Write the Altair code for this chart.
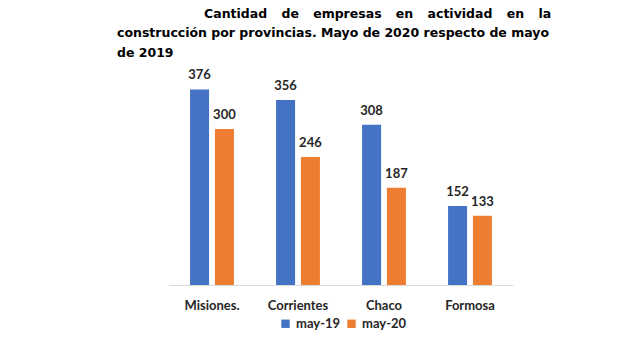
import altair as alt
import pandas as pd

provincias = ["Misiones.", "Corrientes", "Chaco", "Formosa"]
may19 = [376, 356, 308, 152]
may20 = [300, 246, 187, 133]
series = ["may-19", "may-20"]
colors = ["#4472C4", "#ED7D31"]

rows = []
for p, a, b in zip(provincias, may19, may20):
    rows.append({"prov": p, "serie": series[0], "valor": a})
    rows.append({"prov": p, "serie": series[1], "valor": b})
df = pd.DataFrame(rows)

NB = "\u00a0"
gap = NB * 3 + "\u200a"
line1 = "\u200b" + NB * 20 + gap.join(["Cantidad", "de", "empresas", "en", "actividad", "en", "la"])
title_lines = [line1,
               "construcción por provincias. Mayo de 2020 respecto de mayo",
               "de 2019"]

x = alt.X("prov:N", sort=provincias,
          scale=alt.Scale(paddingInner=0.49, paddingOuter=0.245),
          axis=alt.Axis(title=None, labelAngle=0, ticks=False, domainColor="#D9D9D9",
                        labelFont="Lato", labelFontWeight="bold", labelFontSize=13,
                        labelColor="#262626", labelPadding=14))
xo = alt.XOffset("serie:N", sort=series, scale=alt.Scale(paddingInner=0.235, paddingOuter=0))
y = alt.Y("valor:Q", scale=alt.Scale(domain=[0, 400]), axis=None)

bars = alt.Chart(df).mark_bar().encode(
    x=x, xOffset=xo, y=y,
    color=alt.Color("serie:N", sort=series,
                    scale=alt.Scale(domain=series, range=colors),
                    legend=alt.Legend(title=None, orient="none", direction="horizontal",
                                      legendX=110, legendY=240, symbolType="square",
                                      symbolSize=70, labelFont="Lato", labelFontSize=13,
                                      labelFontWeight="bold", labelColor="#262626",
                                      columnPadding=4, symbolStrokeWidth=0))
)
labels = alt.Chart(df).mark_text(dy=-7, baseline="bottom", font="Lato", fontWeight="bold",
                                 fontSize=13, color="#262626").encode(
    x=x, xOffset=xo, y=y, text="valor:Q")

chart = alt.layer(bars, labels).properties(
    width=344, height=208,
    autosize=alt.AutoSizeParams(type="none"),
    padding={"left": 169, "top": 77, "right": 127, "bottom": 53},
    title=alt.TitleParams(title_lines, anchor="start", font="DejaVu Sans", fontWeight="bold",
                          fontSize=12.5, color="#000000", lineHeight=19.5, dx=-52, offset=10),
).configure_view(stroke=None)

chart.save("out.html", embed_options={"renderer": "svg", "actions": False})
